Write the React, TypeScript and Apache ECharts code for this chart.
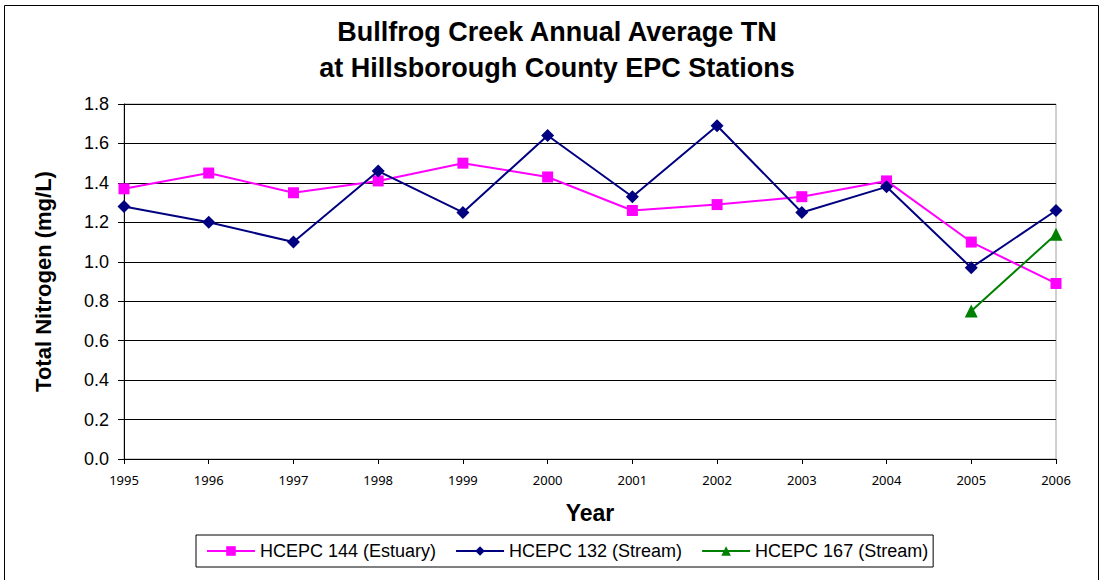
import React, { useEffect, useRef } from "react";
import * as echarts from "echarts";

const years = ["1995", "1996", "1997", "1998", "1999", "2000", "2001", "2002", "2003", "2004", "2005", "2006"];
const hcepc144 = [1.37, 1.45, 1.35, 1.41, 1.5, 1.43, 1.26, 1.29, 1.33, 1.41, 1.1, 0.89];
const hcepc132 = [1.28, 1.2, 1.1, 1.46, 1.25, 1.64, 1.33, 1.69, 1.25, 1.38, 0.97, 1.26];
const hcepc167 = [null, null, null, null, null, null, null, null, null, null, 0.75, 1.14];
const seriesNames = ["HCEPC 144 (Estuary)", "HCEPC 132 (Stream)", "HCEPC 167 (Stream)"];

export default function App() {
  const ref = useRef<HTMLDivElement>(null);
  useEffect(() => {
    if (!ref.current) return;
    const chart = echarts.init(ref.current, null, { renderer: "svg" });
    chart.setOption({
      animation: false,
      backgroundColor: "#ffffff",
      title: {
        text: "Bullfrog Creek Annual Average TN\nat Hillsborough County EPC Stations",
        left: 552,
        textAlign: "center",
        top: 9,
        textStyle: {
          fontFamily: "Liberation Sans, Arial, sans-serif",
          fontWeight: "bold",
          fontSize: 27,
          lineHeight: 36,
          color: "#000",
        },
      },
      graphic: [
        {
          type: "rect",
          shape: { x: 4.5, y: 5.5, width: 1094, height: 580 },
          style: { fill: "none", stroke: "#000", lineWidth: 1 },
          silent: true,
        },
      ],
      legend: {
        data: seriesNames,
        left: 196,
        top: 535,
        width: 760,
        itemWidth: 48,
        itemHeight: 12,
        itemGap: 19,
        padding: [7, 5, 7, 10],
        borderColor: "#000",
        borderWidth: 1,
        textStyle: {
          fontFamily: "Liberation Sans Narrow, Liberation Sans, Arial, sans-serif",
          fontSize: 18,
          color: "#000",
        },
      },
      grid: {
        left: 124,
        right: 46,
        top: 104,
        bottom: 121,
        show: true,
        borderColor: "#a0a0a0",
        borderWidth: 1,
      },
      xAxis: {
        type: "category",
        data: years,
        boundaryGap: false,
        name: "Year",
        nameLocation: "middle",
        nameGap: 42,
        nameTextStyle: {
          fontFamily: "Liberation Sans, Arial, sans-serif",
          fontWeight: "bold",
          fontSize: 23,
          color: "#000",
        },
        axisLine: { lineStyle: { color: "#000", width: 1 } },
        axisTick: { show: true, alignWithLabel: true, length: 5, lineStyle: { color: "#000" } },
        axisLabel: {
          fontFamily: "Noto Sans, DejaVu Sans, sans-serif",
          fontSize: 13,
          color: "#000",
          margin: 14,
        },
        splitLine: { show: false },
      },
      yAxis: {
        type: "value",
        min: 0,
        max: 1.8,
        interval: 0.2,
        name: "Total Nitrogen (mg/L)",
        nameLocation: "middle",
        nameGap: 70,
        nameRotate: 90,
        nameTextStyle: {
          fontFamily: "Liberation Sans, Arial, sans-serif",
          fontWeight: "bold",
          fontSize: 22,
          color: "#000",
        },
        axisLine: { show: true, lineStyle: { color: "#000", width: 1 } },
        axisTick: { show: true, inside: false, length: 6, lineStyle: { color: "#000" } },
        axisLabel: {
          fontFamily: "Liberation Sans, Arial, sans-serif",
          fontSize: 18,
          color: "#000",
          margin: 15,
          formatter: (v: number) => v.toFixed(1),
        },
        splitLine: { show: true, lineStyle: { color: "#000", width: 1 } },
      },
      series: [
        {
          name: seriesNames[0],
          type: "line",
          data: hcepc144,
          color: "#ff00ff",
          symbol: "rect",
          symbolSize: 11,
          lineStyle: { width: 2, color: "#ff00ff" },
          itemStyle: { color: "#ff00ff" },
          z: 3,
        },
        {
          name: seriesNames[1],
          type: "line",
          data: hcepc132,
          color: "#000080",
          symbol: "diamond",
          symbolSize: 13,
          lineStyle: { width: 2, color: "#000080" },
          itemStyle: { color: "#000080" },
          z: 4,
        },
        {
          name: seriesNames[2],
          type: "line",
          data: hcepc167,
          color: "#008000",
          symbol: "triangle",
          symbolSize: 13,
          lineStyle: { width: 2, color: "#008000" },
          itemStyle: { color: "#008000" },
          z: 5,
        },
      ],
    });
    return () => chart.dispose();
  }, []);
  return (
    <div
      ref={ref}
      style={{ position: "fixed", left: 0, top: 0, width: 1102, height: 580, background: "#fff" }}
    />
  );
}
